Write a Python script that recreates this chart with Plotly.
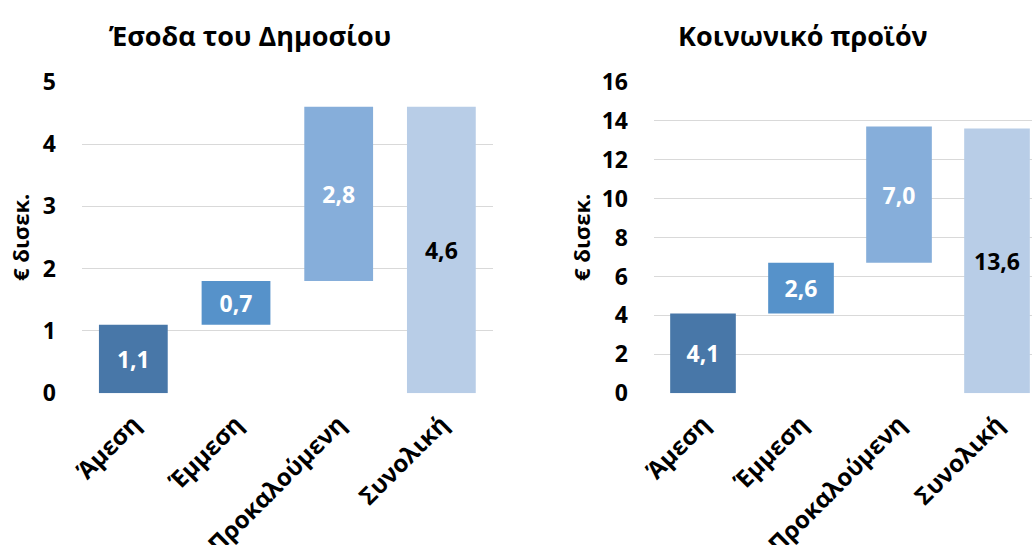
import plotly.graph_objects as go

# Categories of impact and their contributions (€ billions)
categories = ["Άμεση", "Έμμεση", "Προκαλούμενη", "Συνολική"]
revenue_values = [1.1, 0.7, 2.8, 4.6]    # Έσοδα του Δημοσίου
product_values = [4.1, 2.6, 7.0, 13.6]   # Κοινωνικό προϊόν
left_ticks = [0, 1, 2, 3, 4, 5]
right_ticks = [0, 2, 4, 6, 8, 10, 12, 14, 16]

bar_colors = ["#4877A8", "#5692CA", "#86AEDA", "#B8CDE7"]
label_colors = ["white", "white", "white", "black"]
FONT = "'Open Sans', 'Noto Sans', sans-serif"
FS = 23


def bases(values):
    # first three steps stack on each other, the last bar is the total from zero
    out, acc = [], 0.0
    for v in values[:-1]:
        out.append(acc)
        acc += v
    out.append(0.0)
    return out


def fmt(v):
    return f"{v:.1f}".replace(".", ",")


fig = go.Figure()
for vals, xa, ya in [(revenue_values, "x", "y"), (product_values, "x2", "y2")]:
    fig.add_trace(go.Bar(
        x=categories, y=vals, base=bases(vals),
        marker=dict(color=bar_colors, line=dict(width=0)),
        width=0.67,
        text=[fmt(v) for v in vals],
        textposition="inside", insidetextanchor="middle", textangle=0,
        textfont=dict(family=FONT, size=FS, color=label_colors, weight="bold"),
        xaxis=xa, yaxis=ya, showlegend=False, hoverinfo="skip",
    ))

xcommon = dict(tickangle=-45, tickfont=dict(family=FONT, size=24, color="black", weight="bold"),
               showgrid=False, zeroline=False, showline=False, ticks="",
               ticklabelstandoff=11, fixedrange=True, automargin=False)
ycommon = dict(tickfont=dict(family=FONT, size=FS, color="black", weight="bold"),
               showgrid=True, gridcolor="#D9D9D9", gridwidth=1.4,
               zeroline=False, showline=False, ticks="", ticklabelstandoff=25,
               fixedrange=True, automargin=False)

ydom = [1 - 393.3 / 545, 1 - 81.7 / 545]
title_font = dict(family=FONT, size=27, color="black", weight="bold")
ylab_font = dict(family=FONT, size=22, color="black", weight="bold")

fig.update_layout(
    width=1032, height=545,
    margin=dict(l=0, r=0, t=0, b=0),
    paper_bgcolor="white", plot_bgcolor="white",
    bargap=0.33,
    xaxis=dict(domain=[82 / 1032, 492.7 / 1032], range=[-0.5, 3.5], **xcommon),
    yaxis=dict(domain=ydom, range=[0, 5], tickvals=left_ticks, **ycommon),
    xaxis2=dict(domain=[654 / 1032, 1.0], range=[-0.5, 3.357], anchor="y2", **xcommon),
    yaxis2=dict(domain=ydom, range=[0, 16], tickvals=right_ticks, anchor="x2", **ycommon),
    annotations=[
        dict(text="Έσοδα του Δημοσίου", x=250 / 1032, y=1 - 35 / 545,
             xref="paper", yref="paper", showarrow=False,
             xanchor="center", yanchor="middle", font=title_font),
        dict(text="Κοινωνικό προϊόν", x=803 / 1032, y=1 - 35 / 545,
             xref="paper", yref="paper", showarrow=False,
             xanchor="center", yanchor="middle", font=title_font),
        dict(text="€ δισεκ.", x=20 / 1032, y=1 - 238 / 545, xref="paper", yref="paper",
             showarrow=False, textangle=-90, xanchor="center", yanchor="middle",
             font=ylab_font),
        dict(text="€ δισεκ.", x=581 / 1032, y=1 - 238 / 545, xref="paper", yref="paper",
             showarrow=False, textangle=-90, xanchor="center", yanchor="middle",
             font=ylab_font),
    ],
)

fig.write_html("out.html")
